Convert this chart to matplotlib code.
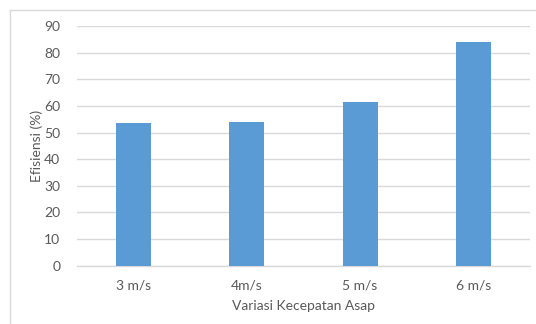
import matplotlib.pyplot as plt
from matplotlib.lines import Line2D

# Efficiency per smoke speed
categories = ["3 m/s", "4m/s", "5 m/s", "6 m/s"]
efisiensi = [53.6, 53.8, 61.6, 84.1]
yticks = [0, 10, 20, 30, 40, 50, 60, 70, 80, 90]

W, H = 536, 324
fig = plt.figure(figsize=(W / 100, H / 100), dpi=100)
plt.rcParams['font.family'] = ['Lato', 'DejaVu Sans']

# plot area in pixels: left 77, right 530, top 26 (y=90), bottom 265.7 (y=0)
ax = fig.add_axes([77 / W, 1 - 265.7 / H, (530 - 77) / W, (265.7 - 26) / H])

text_col = "#595959"
grid_col = "#D9D9D9"

ax.bar(range(len(categories)), efisiensi, width=0.31, color="#5B9BD5", zorder=3)
ax.set_xlim(-0.5, len(categories) - 0.5)
ax.set_ylim(0, 90)
ax.set_yticks(yticks)
ax.set_xticks(range(len(categories)))
ax.set_xticklabels(categories)
ax.grid(axis="y", color=grid_col, linewidth=1, zorder=0)

for side in ["top", "right", "left"]:
    ax.spines[side].set_visible(False)
ax.spines["bottom"].set_color(grid_col)
ax.spines["bottom"].set_linewidth(1)

ax.tick_params(axis="both", length=0, labelsize=10, colors=text_col)
ax.tick_params(axis="y", pad=12)
ax.tick_params(axis="x", pad=10)

ax.set_ylabel("Efisiensi (%)", fontsize=10, color=text_col, labelpad=1)
ax.set_xlabel("Variasi Kecepatan Asap", fontsize=10, color=text_col, labelpad=6)

# light frame around the chart area (only left and top visible)
fig.add_artist(Line2D([10 / W, 10 / W], [0, 1 - 10 / H], transform=fig.transFigure,
                      color=grid_col, linewidth=1))
fig.add_artist(Line2D([10 / W, 1], [1 - 10 / H, 1 - 10 / H], transform=fig.transFigure,
                      color=grid_col, linewidth=1))

fig.savefig("out.png", dpi=100, facecolor="white")
